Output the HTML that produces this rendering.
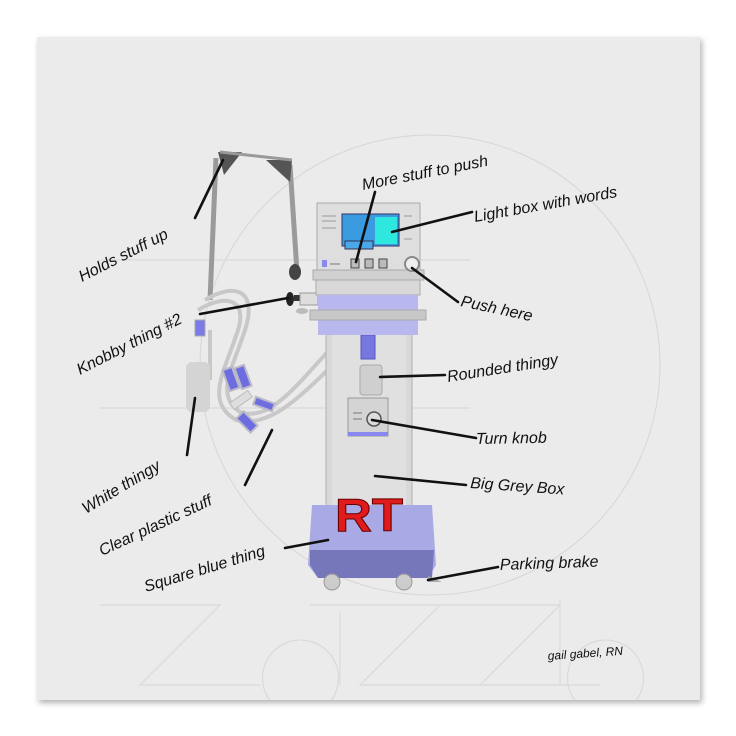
<!DOCTYPE html>
<html><head><meta charset="utf-8"><style>
html,body{margin:0;padding:0;background:#fff;width:736px;height:736px;overflow:hidden}
svg{display:block}
.t{font-family:"Liberation Sans",sans-serif;font-size:16px;fill:#111;font-style:italic}
.l{stroke:#111;stroke-width:2.6;stroke-linecap:round}
</style></head><body>
<svg width="736" height="736" viewBox="0 0 736 736">
<defs><filter id="sh" x="-5%" y="-5%" width="110%" height="110%"><feDropShadow dx="2" dy="3" stdDeviation="3" flood-color="#000" flood-opacity="0.3"/></filter>
<clipPath id="cp"><rect x="37" y="37" width="663" height="663"/></clipPath></defs>
<rect x="37" y="37" width="663" height="663" fill="#ebebeb" filter="url(#sh)"/>
<!-- watermark -->
<g clip-path="url(#cp)">
<circle cx="430" cy="365" r="230" fill="none" stroke="#d6d6d6" stroke-width="1"/>
<g fill="none" stroke="#dadada" stroke-width="1.2">
<path d="M100 605 H220 L140 685 H260"/><path d="M300 640 a38 38 0 1 0 1 0 M340 612 V685"/><path d="M310 605 H440 L360 685 H490"/><path d="M440 605 H560 L480 685 H600"/><path d="M560 600 V685"/><path d="M605 640 a38 38 0 1 0 1 0"/>
<line x1="100" y1="260" x2="470" y2="260"/><line x1="100" y1="408" x2="470" y2="408"/>
</g>
</g>
<!-- stand arm -->
<line x1="216" y1="158" x2="210" y2="300" stroke="#9a9a9a" stroke-width="5"/>
<line x1="290" y1="165" x2="297" y2="272" stroke="#9a9a9a" stroke-width="5"/>
<polygon points="218,152 242,152 224,175" fill="#555"/>
<polygon points="266,160 292,160 290,182" fill="#555"/>
<line x1="220" y1="152" x2="292" y2="160" stroke="#999" stroke-width="3"/>
<ellipse cx="295" cy="272" rx="6" ry="8" fill="#444"/>
<!-- tubes -->
<g fill="none" stroke="#c8c8c8" stroke-width="4">
<path d="M205 300 C235 282 258 290 245 330 C232 370 215 395 240 412 C280 425 310 360 380 300"/>
<path d="M198 310 C228 292 250 300 236 336 C224 372 205 402 236 420 C285 432 325 362 395 310"/>
<path d="M210 330 V380"/>
</g>
<rect x="195" y="320" width="10" height="16" fill="#7b7be8" stroke="#aaa"/>
<rect x="186" y="362" width="24" height="50" rx="6" fill="#d4d4d4"/>
<g fill="#6d6de0" stroke="#b8b8c8" stroke-width="2">
<rect x="226" y="368" width="10" height="22" transform="rotate(-20 231 379)"/>
<rect x="238" y="366" width="10" height="22" transform="rotate(-20 243 377)"/>
<rect x="254" y="400" width="20" height="8" transform="rotate(20 264 404)"/>
<rect x="242" y="412" width="10" height="20" transform="rotate(-45 247 422)"/>
<rect x="352" y="305" width="8" height="22" transform="rotate(20 356 316)"/>
<rect x="382" y="298" width="22" height="7"/>
</g>
<rect x="230" y="396" width="22" height="8" fill="#ddd" stroke="#bbb" transform="rotate(-35 241 400)"/>
<!-- knobby -->
<ellipse cx="290" cy="299" rx="4" ry="7" fill="#222"/>
<rect x="294" y="295" width="6" height="6" fill="#333"/>
<rect x="300" y="293" width="18" height="12" fill="#ddd" stroke="#999"/>
<rect x="322" y="296" width="14" height="5" fill="#333"/><rect x="327" y="292" width="4" height="13" fill="#333"/>
<ellipse cx="302" cy="311" rx="6" ry="3" fill="#bbb"/>
<!-- column -->
<rect x="326" y="330" width="86" height="195" fill="#d8d8d8" stroke="#b0b0b0"/>
<rect x="332" y="335" width="74" height="185" fill="#e0e0e0"/>
<rect x="361" y="335" width="14" height="24" fill="#7777e0" stroke="#5555bb"/>
<rect x="360" y="365" width="22" height="30" rx="3" fill="#cfcfcf" stroke="#aaa"/>
<rect x="348" y="398" width="40" height="38" fill="#d4d4d4" stroke="#999"/>
<rect x="348" y="432" width="40" height="4" fill="#8888ee"/>
<circle cx="374" cy="419" r="7" fill="#ddd" stroke="#555" stroke-width="1.5"/>
<line x1="353" y1="413" x2="362" y2="413" stroke="#777"/><line x1="353" y1="419" x2="362" y2="419" stroke="#777"/>
<!-- collar -->
<rect x="316" y="280" width="104" height="15" fill="#d8d8d8" stroke="#aaa"/>
<rect x="318" y="295" width="100" height="40" fill="#b8b8ef"/>
<rect x="310" y="310" width="116" height="10" fill="#c8c8c8" stroke="#aaa"/>
<!-- head -->
<rect x="317" y="203" width="103" height="75" fill="#dedede" stroke="#aaa"/>
<rect x="313" y="270" width="111" height="10" fill="#d0d0d0" stroke="#aaa"/>
<rect x="342" y="214" width="57" height="32" fill="#3a9be0" stroke="#336"/>
<rect x="375" y="217" width="22" height="27" fill="#2ee8e0"/>
<rect x="345" y="241" width="28" height="8" fill="#4aa8e8" stroke="#335"/>
<rect x="351" y="259" width="8" height="9" fill="#bbb" stroke="#444"/><rect x="365" y="259" width="8" height="9" fill="#bbb" stroke="#444"/><rect x="379" y="259" width="8" height="9" fill="#bbb" stroke="#444"/>
<rect x="322" y="260" width="5" height="7" fill="#8888ee"/><line x1="330" y1="264" x2="340" y2="264" stroke="#777"/>
<circle cx="412" cy="264" r="7" fill="#eee" stroke="#888" stroke-width="2"/>
<g stroke="#999"><line x1="322" y1="216" x2="336" y2="216"/><line x1="322" y1="221" x2="336" y2="221"/><line x1="322" y1="228" x2="336" y2="228"/><line x1="404" y1="216" x2="412" y2="216"/><line x1="404" y1="228" x2="412" y2="228"/><line x1="404" y1="239" x2="412" y2="239"/></g>
<!-- base -->
<polygon points="312,505 432,505 436,565 428,578 318,578 308,565" fill="#a9a9e6"/>
<polygon points="310,550 434,550 432,578 318,578 310,565" fill="#7676bb"/>
<circle cx="332" cy="582" r="8" fill="#ccc" stroke="#999"/><circle cx="404" cy="582" r="8" fill="#ccc" stroke="#999"/>
<polygon points="428,576 442,582 428,582" fill="#aaa"/>
<text x="335" y="531" font-family="Liberation Sans,sans-serif" font-weight="bold" font-size="46" fill="#e01b1b" stroke="#600" stroke-width="1" textLength="68" lengthAdjust="spacingAndGlyphs">RT</text>
<!-- leaders -->
<g class="l">
<line x1="195" y1="218" x2="223" y2="160"/><line x1="200" y1="314" x2="288" y2="298"/>
<line x1="187" y1="455" x2="195" y2="398"/><line x1="245" y1="485" x2="272" y2="430"/>
<line x1="285" y1="548" x2="328" y2="540"/><line x1="375" y1="192" x2="356" y2="262"/>
<line x1="472" y1="212" x2="392" y2="232"/><line x1="458" y1="302" x2="412" y2="268"/>
<line x1="445" y1="375" x2="380" y2="377"/><line x1="476" y1="438" x2="372" y2="420"/>
<line x1="466" y1="485" x2="375" y2="476"/><line x1="498" y1="567" x2="428" y2="580"/>
</g>
<!-- labels -->
<text class="t" transform="translate(82,282) rotate(-27)">Holds stuff up</text>
<text class="t" transform="translate(80,375) rotate(-27)">Knobby thing #2</text>
<text class="t" transform="translate(86,514) rotate(-31)">White thingy</text>
<text class="t" transform="translate(102,556) rotate(-25)">Clear plastic stuff</text>
<text class="t" transform="translate(146,592) rotate(-17)">Square blue thing</text>
<text class="t" transform="translate(363,190) rotate(-11)">More stuff to push</text>
<text class="t" transform="translate(475,222) rotate(-10)">Light box with words</text>
<text class="t" transform="translate(460,306) rotate(12)">Push here</text>
<text class="t" transform="translate(448,382) rotate(-9)">Rounded thingy</text>
<text class="t" transform="translate(476,444) rotate(-1)">Turn knob</text>
<text class="t" transform="translate(470,488) rotate(4)">Big Grey Box</text>
<text class="t" transform="translate(500,570) rotate(-2)">Parking brake</text>
<text class="t" style="font-size:12px" transform="translate(548,660) rotate(-4)">gail gabel, RN</text>
</svg>
</body></html>
